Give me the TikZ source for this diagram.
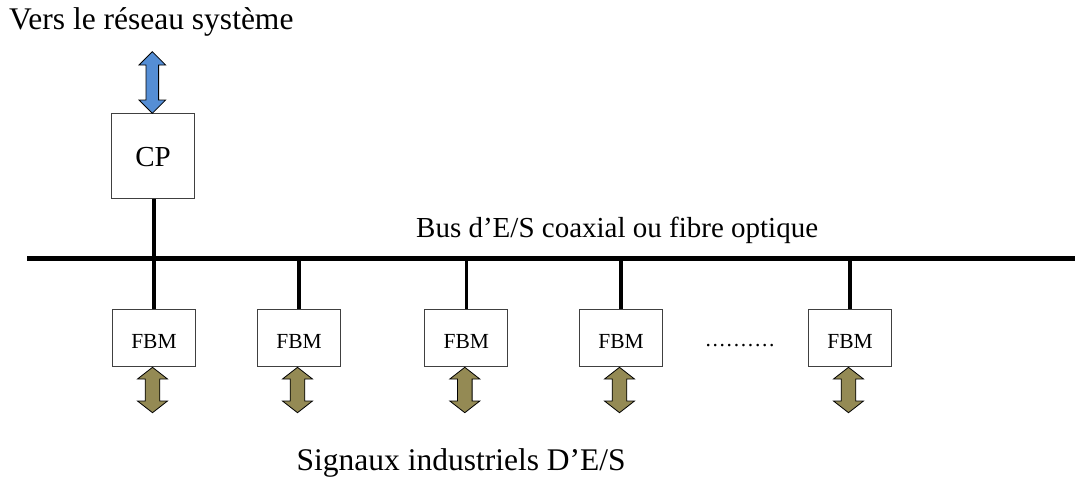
\documentclass[tikz,border=0pt]{standalone}
\usepackage{fontspec}
\setmainfont{Liberation Serif}
\definecolor{arrblue}{HTML}{558ED5}
\definecolor{arrolive}{HTML}{948A54}
\definecolor{boxgrey}{HTML}{404040}
\tikzset{
  txt/.style={inner sep=0pt, anchor=base west},
  bigfont/.style={font=\fontsize{#1}{#1}\selectfont},
  cpbox/.style={draw=boxgrey, line width=1pt, fill=white, minimum width=82.6pt, minimum height=85pt, inner sep=0pt, text height=21.8pt, text depth=0pt, bigfont=29},
  fbmbox/.style={draw=boxgrey, line width=1pt, fill=white, minimum width=83.3pt, minimum height=56.7pt, inner sep=0pt, text height=20pt, text depth=0pt, bigfont=21.5},
  busline/.style={line width=4.5pt},
  link/.style={line width=3.6pt},
  oarr/.pic={\draw[fill=arrolive, line width=0.8pt, line join=miter]
     (0,0) -- (15,11.7) -- (7.3,11.7) -- (7.3,33.7) -- (15,33.7) -- (0,45.4)
     -- (-15,33.7) -- (-7.3,33.7) -- (-7.3,11.7) -- (-15,11.7) -- cycle;},
  barr/.pic={\draw[fill=arrblue, line width=0.8pt, line join=miter]
     (0,0) -- (13.3,13.3) -- (6.3,13.3) -- (6.3,48.3) -- (13.3,48.3) -- (0,61.6)
     -- (-13.3,48.3) -- (-6.3,48.3) -- (-6.3,13.3) -- (-13.3,13.3) -- cycle;}
}
\begin{document}
\begin{tikzpicture}[x=1pt, y=-1pt]
\useasboundingbox (0,0) rectangle (1075,479);

% texts
\node[txt, bigfont=31.5] (top) at (9,29.5) {Vers le réseau système};
\node[txt, bigfont=29] (bus) at (416,237.7) {Bus d’E/S coaxial ou fibre optique};
\node[txt, bigfont=31.5] (bottom) at (296.5,470) {Signaux industriels D’E/S};
\node[txt, bigfont=21.5] (dots) at (705.3,346.7) {.\kern1.7pt.\kern1.7pt.\kern1.7pt.\kern1.7pt.\kern1.7pt.\kern1.7pt.\kern1.7pt.\kern1.7pt.\kern1.7pt.};

% bus
\coordinate (busL) at (27.3,258.3);
\coordinate (busR) at (1075,258.3);
\draw[busline] (busL) -- (busR);

% CP
\node[cpbox] (cp) at (153,155.8) {CP};
\coordinate (b0) at (154,258.3);
\draw[link] (cp.south -| b0) -- (b0);
\pic at (152.3,51.7) {barr};

% FBMs
\foreach \i/\x in {1/154, 2/299, 3/466.3, 4/621, 5/850}{
  \node[fbmbox] (fbm\i) at (\x,338.3) {FBM};
  \coordinate (b\i) at (\x,258.3);
  \draw[link] (b\i) -- (fbm\i.north);
  \pic at (\x-1.5,367.3) {oarr};
}
\end{tikzpicture}
\end{document}
